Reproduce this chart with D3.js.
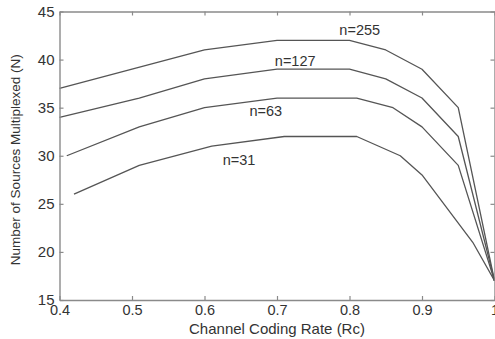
<!DOCTYPE html>
<html>
<head>
<meta charset="utf-8">
<script src="https://cdn.jsdelivr.net/npm/d3@7"></script>
<style>
  html, body { margin: 0; padding: 0; background: #fff; }
  svg { display: block; }
  text { font-family: "Liberation Sans", Arial, Helvetica, sans-serif; fill: #333; }
</style>
</head>
<body>
<svg id="chart" width="495" height="339"></svg>
<script>
// Data
const seriesNames = ['n=31', 'n=63', 'n=127', 'n=255'];
const rateN31 = [0.42, 0.51, 0.61, 0.71, 0.81, 0.87, 0.90, 0.97, 1.0];
const sourcesN31 = [26, 29, 31, 32, 32, 30, 28, 21, 17];
const rateN63 = [0.41, 0.51, 0.60, 0.70, 0.81, 0.86, 0.90, 0.95, 1.0];
const sourcesN63 = [30, 33, 35, 36, 36, 35, 33, 29, 17];
const rateN127 = [0.40, 0.51, 0.60, 0.70, 0.80, 0.85, 0.90, 0.95, 1.0];
const sourcesN127 = [34, 36, 38, 39, 39, 38, 36, 32, 17];
const rateN255 = [0.40, 0.50, 0.60, 0.70, 0.80, 0.85, 0.90, 0.95, 1.0];
const sourcesN255 = [37, 39, 41, 42, 42, 41, 39, 35, 17];
// where each curve's label sits, in data units
const labelRate = [0.625, 0.662, 0.697, 0.786];
const labelSources = [29.0, 34.1, 39.3, 42.6];

const xTicks = [0.4, 0.5, 0.6, 0.7, 0.8, 0.9, 1.0];
const xTickLabels = ['0.4', '0.5', '0.6', '0.7', '0.8', '0.9', '1'];
const yTicks = [15, 20, 25, 30, 35, 40, 45];

// Layout
const svg = d3.select('#chart');
const plotLeft = 59.5, plotRight = 494.5, plotTop = 11.5, plotBottom = 300;
const axisColor = '#8a8a8a';
const lineColor = '#555';
const tickLen = 4;

const x = d3.scaleLinear().domain([0.4, 1.0]).range([plotLeft, plotRight]);
const y = d3.scaleLinear().domain([15, 45]).range([plotBottom, plotTop]);

const series = [
  { rate: rateN31, sources: sourcesN31 },
  { rate: rateN63, sources: sourcesN63 },
  { rate: rateN127, sources: sourcesN127 },
  { rate: rateN255, sources: sourcesN255 }
];

const line = d3.line()
  .x(d => x(d[0]))
  .y(d => y(d[1]));

// curves
svg.append('g')
  .selectAll('path')
  .data(series)
  .join('path')
  .attr('d', s => line(s.rate.map((r, i) => [r, s.sources[i]])))
  .attr('fill', 'none')
  .attr('stroke', lineColor)
  .attr('stroke-width', 1.3)
  .attr('stroke-linejoin', 'round');

// axes (matlab-like box with inward ticks)
const bottomAxis = d3.axisBottom(x).tickValues(xTicks)
  .tickFormat((d, i) => xTickLabels[i]).tickSizeInner(-tickLen).tickSizeOuter(0).tickPadding(5);
const leftAxis = d3.axisLeft(y).tickValues(yTicks)
  .tickFormat(d3.format('d')).tickSizeInner(-tickLen).tickSizeOuter(0).tickPadding(5);
const topAxis = d3.axisTop(x).tickValues(xTicks).tickFormat('').tickSizeInner(-tickLen).tickSizeOuter(0);
const rightAxis = d3.axisRight(y).tickValues(yTicks).tickFormat('').tickSizeInner(-tickLen).tickSizeOuter(0);

const gx = svg.append('g').attr('transform', `translate(0,${plotBottom})`).call(bottomAxis);
const gy = svg.append('g').attr('transform', `translate(${plotLeft},0)`).call(leftAxis);
const gt = svg.append('g').attr('transform', `translate(0,${plotTop})`).call(topAxis);
const gr = svg.append('g').attr('transform', `translate(${plotRight},0)`).call(rightAxis);

[gx, gy, gt, gr].forEach(g => {
  g.select('.domain').attr('stroke', axisColor).attr('stroke-width', 1.4);
  g.selectAll('.tick line').attr('stroke', axisColor).attr('stroke-width', 1.2);
});
gx.selectAll('.tick text').attr('font-size', 14.5).attr('fill', '#333')
  .style('font-family', '"Liberation Sans", Arial, sans-serif');
gy.selectAll('.tick text').attr('font-size', 15).attr('fill', '#333')
  .style('font-family', '"Liberation Sans", Arial, sans-serif');

// curve labels
svg.append('g')
  .selectAll('text')
  .data(seriesNames)
  .join('text')
  .attr('x', (d, i) => x(labelRate[i]))
  .attr('y', (d, i) => y(labelSources[i]))
  .attr('font-size', 14.5)
  .text(d => d);

// axis titles
svg.append('text')
  .attr('x', (plotLeft + plotRight) / 2)
  .attr('y', 334)
  .attr('text-anchor', 'middle')
  .attr('font-size', 15)
  .text('Channel Coding Rate (Rc)');

svg.append('text')
  .attr('transform', `translate(20,${(plotTop + plotBottom) / 2 + 4}) rotate(-90)`)
  .attr('text-anchor', 'middle')
  .attr('font-size', 13.5)
  .text('Number of Sources Multiplexed (N)');
</script>
</body>
</html>
